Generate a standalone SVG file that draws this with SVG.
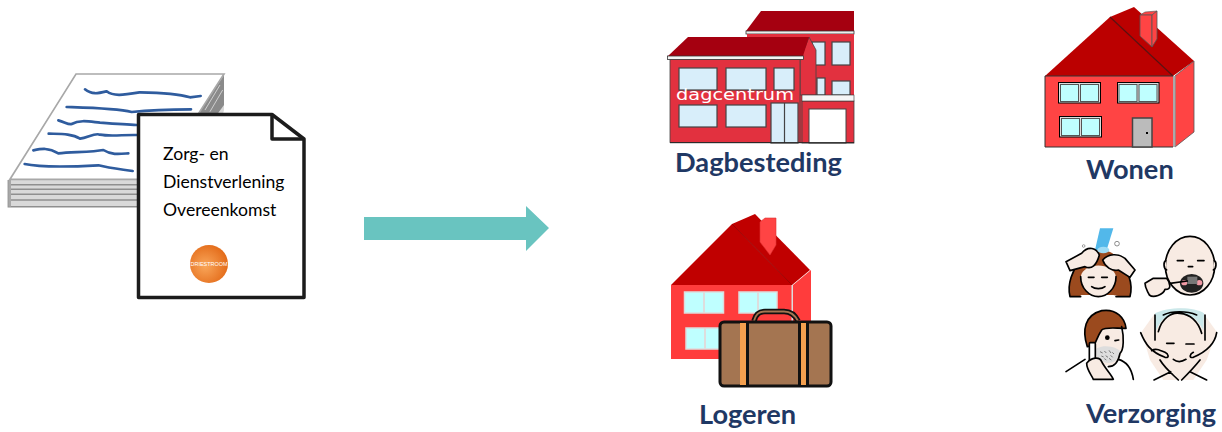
<svg xmlns="http://www.w3.org/2000/svg" width="1222" height="432" viewBox="0 0 1222 432">
<style>
.lbl{font-family:"Lato","Liberation Sans",sans-serif;font-weight:700;fill:#1f3864;font-size:27.2px}
.doc{font-family:"Lato","Liberation Sans",sans-serif;font-size:17.6px;fill:#000}
.wave{fill:none;stroke:#2f5c9e;stroke-width:8;stroke-linecap:round;stroke-linejoin:round}
.win{fill:#d8eefa;stroke:#444;stroke-width:1.2}
.w2{fill:#bfffff;stroke:#555;stroke-width:1}
.ln{fill:none;stroke:#000;stroke-width:5;stroke-linecap:round;stroke-linejoin:round}
.skin{fill:#f8ebe3}
.hair{fill:#9b4a1e}
</style>
<defs>
<radialGradient id="orb" cx="40%" cy="55%" r="70%"><stop offset="0" stop-color="#f9a65a"/><stop offset="1" stop-color="#e0620f"/></radialGradient>
</defs>

<g id="connectors">
<polygon points="364,217 526,217 526,206 549,228 526,251 526,240 364,240" fill="#69c4c0"/>
</g>

<g id="document">
<g transform="translate(0,60) scale(.33333)">
<polygon points="228,42 672,42 672,150 600,440 25,440 25,360" fill="#d9d9d9"/>
<polygon points="672,45 596,160 650,165 672,135" fill="#8a8a8a"/>
<path d="M660,75L615,150M668,90L630,155" stroke="#cfcfcf" stroke-width="3"/>
<polygon points="228,42 672,42 596,160 540,358 30,358" fill="#fff" stroke="#a8a8a8" stroke-width="5"/>
<path d="M25,360V440H430M25,374H430M25,388H430M25,403H430M25,420H430" fill="none" stroke="#8f8f8f" stroke-width="4.500"/>
<rect x="25" y="360" width="8" height="80" fill="#a8a8a8"/>
<path class="wave" d="M255,88C275,105 295,100 320,94C340,110 370,105 420,97C470,98 530,100 570,112L602,108"/>
<path class="wave" d="M200,141C260,143 350,145 395,156C450,150 520,148 573,148"/>
<path class="wave" d="M175,181C195,186 205,195 215,192C240,178 270,185 300,188C340,191 380,194 410,195"/>
<path class="wave" d="M146,221C180,222 215,220 240,236C265,232 285,218 300,224C330,230 370,224 410,225"/>
<path class="wave" d="M100,271C125,266 145,262 175,280C220,276 280,276 310,270C335,286 360,282 385,280"/>
<path class="wave" d="M74,312C120,322 220,320 295,316C330,325 365,328 398,333"/>
</g>
<path d="M138.500,114.500H272L304,139V297.500H138.500Z" fill="#fff" stroke="#1c1c1c" stroke-width="3.500" stroke-linejoin="round"/>
<path d="M272,114.500V139H304" fill="none" stroke="#1c1c1c" stroke-width="3.500" stroke-linejoin="round"/>
<text class="doc" x="163" y="160">Zorg- en</text>
<text class="doc" x="163" y="188">Dienstverlening</text>
<text class="doc" x="163" y="216">Overeenkomst</text>
<circle cx="209" cy="264" r="19" fill="url(#orb)"/>
<text x="209" y="266" text-anchor="middle" font-family="Liberation Sans,sans-serif" font-size="6" fill="#fff" textLength="37" lengthAdjust="spacingAndGlyphs">DRIESTROOM</text>
</g>

<g id="dagbesteding">
<polygon points="761,11 854,11 854,31 746,31" fill="#a50010"/>
<rect x="746" y="31" width="108" height="3" fill="#eee" stroke="#333" stroke-width=".8"/>
<rect x="747" y="34" width="107" height="109" fill="#e2313f"/>
<rect x="812" y="42" width="13" height="23" class="win"/>
<rect x="832" y="42" width="18" height="23" class="win"/>
<rect x="817" y="78" width="8" height="17" class="win"/>
<rect x="832" y="81" width="18" height="14" class="win"/>
<polygon points="809,37 816,50 816,95 800,95 800,60" fill="#e2313f" stroke="#444" stroke-width=".8"/>
<polygon points="688,37 809,37 803,56 668,56" fill="#a50010"/>
<rect x="667.500" y="56" width="136" height="3.500" fill="#f4f4f4" stroke="#333" stroke-width=".8"/>
<rect x="670" y="59.500" width="130" height="83" fill="#e2313f" stroke="#444" stroke-width=".8"/>
<rect x="802" y="101" width="52" height="42" fill="#e2313f" stroke="#444" stroke-width=".8"/>
<rect x="802" y="95" width="52" height="6" fill="#f6f6f6" stroke="#333" stroke-width=".6"/>
<rect x="809" y="109" width="37" height="34" fill="#fff" stroke="#444" stroke-width="1"/>
<rect x="679" y="68" width="38" height="22" class="win"/>
<rect x="726" y="68" width="40" height="22" class="win"/>
<rect x="774" y="68" width="20" height="22" class="win"/>
<rect x="679" y="105" width="38" height="22" class="win"/>
<rect x="726" y="105" width="40" height="22" class="win"/>
<rect x="771" y="103" width="27" height="40" class="win"/>
<path d="M784.500,103V143" stroke="#444" stroke-width="1.200"/>
<path d="M670,142.700H854" stroke="#222" stroke-width="1"/>
<text x="676" y="100" font-family="DejaVu Sans,sans-serif" font-size="15.500" fill="#fff" textLength="118" lengthAdjust="spacingAndGlyphs">dagcentrum</text>
<text class="lbl" x="675" y="172">Dagbesteding</text>
</g>

<g id="wonen">
<polygon points="1110,17 1134,7 1194,61 1173,76" fill="#bb0000"/>
<polygon points="1045,76 1110,17 1173,76" fill="#bb0000"/>
<path d="M1110,17L1173,76" stroke="#5a0f0f" stroke-width="1.200"/>
<polygon points="1140,15 1145,12 1157,11 1152,15" fill="#ff4444" stroke="#555" stroke-width=".6"/>
<polygon points="1140,15 1152,15 1152,47 1140,36" fill="#ff4444" stroke="#555" stroke-width=".8"/>
<polygon points="1152,15 1157,11 1157,39 1152,47" fill="#ff4444" stroke="#555" stroke-width=".8"/>
<polygon points="1175,76 1194,61 1194,132 1175,147" fill="#ff4444" stroke="#555" stroke-width=".8"/>
<rect x="1045" y="76" width="128" height="71" fill="#ff4444"/>
<rect x="1173" y="76" width="2.500" height="71" fill="#aaa"/>
<path d="M1045,147V76H1173M1045,147H1173" fill="none" stroke="#333" stroke-width="1"/>
<rect x="1058.500" y="82.500" width="42" height="20.500" fill="#ddd" stroke="#000"/>
<rect x="1060.500" y="84.500" width="18" height="17" class="w2"/><rect x="1080.500" y="84.500" width="18" height="17" class="w2"/>
<rect x="1117.500" y="82.500" width="41.500" height="20.500" fill="#ddd" stroke="#000"/>
<rect x="1119" y="84.500" width="18" height="17" class="w2"/><rect x="1139" y="84.500" width="18" height="17" class="w2"/>
<rect x="1059.500" y="116.500" width="42" height="20.500" fill="#ddd" stroke="#000"/>
<rect x="1061.500" y="118.500" width="18" height="17" class="w2"/><rect x="1081.500" y="118.500" width="18" height="17" class="w2"/>
<rect x="1132.500" y="118" width="19.500" height="29" fill="#bbb" stroke="#444" stroke-width="1.500"/>
<rect x="1146" y="132" width="2" height="2" fill="#000"/>
<text class="lbl" x="1086" y="179">Wonen</text>
</g>

<g id="logeren">
<polygon points="732,224 755,214 810,270 792,285" fill="#c00000"/>
<polygon points="671,285 732,224 792,285" fill="#c00000"/>
<path d="M732,224L792,285" stroke="#9c0000" stroke-width="1"/>
<polygon points="760,222 765,218 776,218 776,245 770,255 760,242" fill="#ff4444" stroke="#d33" stroke-width=".6"/>
<polygon points="793,285 811,270 811,345 793,359" fill="#ff3c3c"/>
<rect x="671" y="285" width="121" height="74" fill="#ff3c3c"/>
<rect x="791.500" y="285" width="1.500" height="74" fill="#ddd"/>
<rect x="684.500" y="292" width="39" height="21" fill="#bfffff" stroke="#ddd" stroke-width="1.500"/>
<path d="M704,292V313" stroke="#ddd" stroke-width="2"/>
<rect x="739" y="292" width="38" height="21" fill="#bfffff" stroke="#ddd" stroke-width="1.500"/>
<path d="M758,292V313" stroke="#ddd" stroke-width="2"/>
<rect x="686" y="328" width="39" height="21" fill="#bfffff" stroke="#ddd" stroke-width="1.500"/>
<path d="M705,328V349" stroke="#ddd" stroke-width="2"/>
<path d="M754,321C756,313 760,311.500 765,311.500H784C790,311.500 795,315 798,321" fill="none" stroke="#111" stroke-width="5.500"/>
<path d="M754,321C756,313 760,311.500 765,311.500H784C790,311.500 795,315 798,321" fill="none" stroke="#a47551" stroke-width="2"/>
<rect x="720" y="322" width="111" height="64" rx="4" fill="#a47551" stroke="#111" stroke-width="3"/>
<rect x="740" y="323" width="6" height="62" fill="#f4a04f"/>
<rect x="746" y="323" width="3" height="62" fill="#111"/>
<rect x="798" y="323" width="3" height="62" fill="#111"/>
<rect x="801" y="323" width="5" height="62" fill="#f4a04f"/>
<rect x="806" y="323" width="3" height="62" fill="#111"/>
<text class="lbl" x="699" y="424">Logeren</text>
</g>

<g id="verzorging">
<g transform="translate(1050,220) scale(.33333)">
<polygon points="150,25 190,25 170,90 135,90" fill="#52b8ea"/>
<path class="hair" d="M60,230C50,190 70,150 85,130C95,90 180,70 205,120C235,150 250,190 240,230C225,230 210,230 190,225L95,225C85,232 70,232 60,230Z"/>
<path class="skin" d="M92,170C100,125 190,125 198,170C198,205 172,230 145,230C118,230 92,205 92,170Z"/>
<path class="ln" stroke-width="4" d="M60,230C50,190 70,150 85,130M205,125C235,150 250,190 240,230M92,170C92,205 118,230 145,230C172,230 198,205 198,170M60,230H92M198,230H240"/>
<path class="ln" d="M115,172H132M155,172H172M125,200C135,208 155,208 165,200"/>
<path class="ln" style="fill:#f8ebe3" d="M48,125L95,100C115,75 140,85 148,105C140,135 125,150 105,140L60,152Z"/>
<path class="ln" style="fill:#f8ebe3" d="M255,150L225,115C205,100 175,100 158,120C165,140 185,155 205,150L240,172Z"/>
<circle cx="201" cy="71" r="7" fill="#fff" stroke="#777" stroke-width="2.500"/><circle cx="101" cy="78" r="4" fill="#fff" stroke="#777" stroke-width="2"/>
<ellipse cx="160" cy="90" rx="18" ry="10" fill="#9fdcf5"/>

<ellipse class="ln" style="fill:#f8ebe3" cx="420" cy="137" rx="74" ry="88"/>
<path class="ln" style="fill:#f8ebe3" d="M347,122C340,125 340,145 350,150M493,122C500,125 500,145 490,150"/>
<path class="ln" stroke-width="4" d="M382,122H400M443,122H462M415,140H428"/>
<ellipse cx="425" cy="190" rx="35" ry="28" fill="#222"/>
<ellipse cx="403" cy="188" rx="9" ry="8" fill="#f29aa5"/><ellipse cx="448" cy="188" rx="9" ry="8" fill="#f29aa5"/>
<rect x="412" y="170" width="30" height="22" fill="#777"/>
<path class="ln" d="M360,190L412,183"/>
<path class="ln" style="fill:#f8ebe3" d="M285,190L310,175H350C362,190 365,210 345,208C340,225 310,235 298,225C292,212 285,205 285,190Z"/>

<path class="skin" d="M135,330C170,310 215,320 220,350C222,390 215,420 185,435C150,440 130,430 125,400Z"/>
<path class="ln" style="fill:#9b4a1e" d="M112,380C95,330 105,285 155,272C200,265 225,295 228,325C195,325 165,320 155,330C145,345 140,360 135,370L125,378Z"/>
<path d="M140,385C170,370 205,385 212,395C205,425 180,435 160,425C140,420 135,400 140,385Z" fill="#ddd"/>
<path d="M150,395l8,4m5,-6l6,6m8,-8l6,8m4,-2l5,5m-38,6l7,3m6,-4l7,5m8,-6l6,6m-25,4l6,4m8,-5l7,5" stroke="#777" stroke-width="3"/>
<circle cx="172" cy="353" r="7" fill="#000"/>
<path class="ln" stroke-width="4" d="M195,362L206,360M215,320C222,350 222,390 210,400C205,425 195,440 175,440"/>
<path class="ln" d="M48,455L105,418M250,478C245,445 230,425 205,418"/>
<rect x="118" y="368" width="18" height="60" rx="3" fill="#fff" stroke="#000" stroke-width="5"/>
<path class="ln" style="fill:#f8ebe3" d="M110,430C125,410 150,410 155,425C165,445 185,465 190,478H130C125,465 110,450 110,430Z"/>

<path d="M275,335L315,280L390,265L460,280L500,335L470,420L430,480H340L300,420Z" fill="#f8ebe3"/>
<path d="M315,280C350,262 430,258 462,280L460,330C440,295 420,280 385,280C350,282 330,300 315,340Z" fill="#cbe8ea"/>
<path class="ln" stroke-width="3" d="M315,285V360M465,285V360M325,335C335,295 365,275 390,280C420,282 445,305 455,340M340,285C365,272 410,272 440,285"/>
<path class="ln" stroke-width="4" d="M350,370H372M408,372H432M370,418C380,426 395,426 408,418"/>
<path class="ln" d="M272,338C285,370 300,395 345,412C360,415 355,402 345,397C325,388 315,385 305,392M500,338C495,370 470,395 430,412C415,415 420,402 430,397M330,420C345,445 370,465 385,480M450,420C430,445 410,465 395,480M312,480L362,455M470,480L420,455"/>
</g>
<text class="lbl" x="1086" y="423">Verzorging</text>
</g>
</svg>
